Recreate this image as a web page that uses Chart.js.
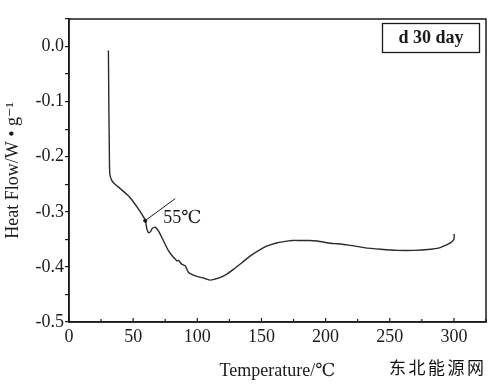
<!DOCTYPE html>
<html>
<head>
<meta charset="utf-8">
<script src="https://cdn.jsdelivr.net/npm/chart.js@4/dist/chart.umd.min.js"></script>
<style>
  html, body { margin: 0; padding: 0; background: #fff; }
  #wrap { width: 500px; height: 388px; position: relative; }
</style>
</head>
<body>
<div id="wrap"><canvas id="c" width="500" height="388"></canvas></div>
<script>
// ---- data ----
const temperature = [30.7, 30.9, 31.1, 31.4, 31.8, 33.3, 35.9, 40, 46.3, 50.5, 54.2, 57, 59.4, 60.7, 62, 63.5, 65, 67.2, 69.8, 73.7, 77.6, 81.5, 83, 84.1, 85.5, 86.7, 88.5, 90.6, 93.2, 97, 101, 106, 110, 114, 118, 123, 128.4, 135, 141.4, 148, 154.5, 161, 167.4, 174, 180.5, 187, 193.5, 203.9, 209, 217, 230, 243, 256, 269, 282, 288, 292.4, 297.6, 300, 300.2];
const heatFlow = [-0.007, -0.06, -0.12, -0.18, -0.231, -0.243, -0.250, -0.258, -0.271, -0.283, -0.295, -0.305, -0.315, -0.331, -0.338, -0.336, -0.330, -0.328, -0.335, -0.353, -0.371, -0.383, -0.386, -0.389, -0.388, -0.392, -0.396, -0.398, -0.410, -0.415, -0.418, -0.421, -0.424, -0.422, -0.419, -0.413, -0.404, -0.392, -0.380, -0.370, -0.362, -0.357, -0.354, -0.352, -0.352, -0.352, -0.353, -0.357, -0.358, -0.360, -0.365, -0.368, -0.370, -0.370, -0.368, -0.366, -0.362, -0.356, -0.350, -0.340];
const xMajorTicks = [0, 50, 100, 150, 200, 250, 300];
const yMajorTicks = [0.0, -0.1, -0.2, -0.3, -0.4, -0.5];
const annotationLine = { x: [59.4, 82.8], y: [-0.316, -0.276] };
const annotationText = { label: "55℃", x: 73.4, y: -0.312 };
const panelLabel = "d 30 day";
const xTitle = "Temperature/℃";
const yTitle = "Heat Flow/W • g⁻¹";
const watermark = "东北能源网";

const points = temperature.map((t, i) => ({ x: t, y: heatFlow[i] }));
const SERIF = "'Liberation Serif', 'DejaVu Serif', serif";
const INK = '#1a1a1a';

const decor = {
  id: 'decor',
  afterDraw(chart) {
    const { ctx, chartArea: a, scales: { x, y } } = chart;
    ctx.save();
    // frame
    ctx.strokeStyle = INK;
    ctx.lineWidth = 1.5;
    ctx.strokeRect(a.left, a.top, a.right - a.left, a.bottom - a.top);
    // inward x ticks every 25
    ctx.lineWidth = 1.2;
    for (let v = 0; v <= 325; v += 25) {
      const px = x.getPixelForValue(v);
      const len = (v % 50 === 0) ? 4 : 3;
      ctx.beginPath();
      ctx.moveTo(px, a.bottom);
      ctx.lineTo(px, a.bottom - len);
      ctx.stroke();
    }
    // annotation pointer
    ctx.lineWidth = 1;
    ctx.beginPath();
    ctx.moveTo(x.getPixelForValue(annotationLine.x[0]), y.getPixelForValue(annotationLine.y[0]));
    ctx.lineTo(x.getPixelForValue(annotationLine.x[1]), y.getPixelForValue(annotationLine.y[1]));
    ctx.stroke();
    ctx.beginPath();
    ctx.arc(x.getPixelForValue(annotationLine.x[0]), y.getPixelForValue(annotationLine.y[0]), 2, 0, Math.PI * 2);
    ctx.fillStyle = INK;
    ctx.fill();
    ctx.font = "18px " + SERIF;
    ctx.textBaseline = 'middle';
    ctx.textAlign = 'left';
    ctx.fillText(annotationText.label, x.getPixelForValue(annotationText.x), y.getPixelForValue(annotationText.y));
    // panel label box
    ctx.lineWidth = 1.3;
    ctx.strokeRect(382.5, 23.5, 97, 29);
    ctx.font = "bold 18px " + SERIF;
    ctx.textAlign = 'center';
    ctx.fillText(panelLabel, 431, 38.5);
    // watermark
    ctx.font = "17px 'Noto Sans CJK SC', sans-serif";
    ctx.textAlign = 'left';
    ctx.fillStyle = '#111';
    if ('letterSpacing' in ctx) ctx.letterSpacing = '2.5px';
    ctx.fillText(watermark, 389, 368);
    ctx.restore();
  }
};

new Chart(document.getElementById('c'), {
  type: 'scatter',
  data: {
    datasets: [{
      data: points,
      showLine: true,
      borderColor: '#2a2a2a',
      borderWidth: 1.4,
      pointRadius: 0,
      tension: 0.2,
      fill: false
    }]
  },
  options: {
    responsive: false,
    animation: false,
    devicePixelRatio: 1,
    layout: { padding: { top: 19, right: 14, bottom: 6, left: 2 } },
    plugins: { legend: { display: false }, tooltip: { enabled: false } },
    scales: {
      x: {
        type: 'linear',
        min: 0, max: 325,
        afterFit: s => { s.height = 60; },
        afterBuildTicks: s => { s.ticks = xMajorTicks.map(v => ({ value: v })); },
        ticks: { font: { family: SERIF, size: 18 }, color: INK, padding: 4, maxRotation: 0 },
        grid: { drawOnChartArea: false, drawTicks: false },
        border: { color: INK, width: 1.5 },
        title: { display: true, text: xTitle, font: { family: SERIF, size: 18 }, color: INK, padding: { top: 0, bottom: 0 } }
      },
      y: {
        type: 'linear',
        min: -0.5, max: 0.05,
        afterFit: s => { s.width = 67; },
        afterBuildTicks: s => {
          const t = [];
          for (let k = -10; k <= 1; k++) t.push({ value: k * 0.05 });
          s.ticks = t;
        },
        ticks: {
          font: { family: SERIF, size: 18 }, color: INK, padding: 1,
          callback: v => {
            const r = Math.round(v * 10);
            if (Math.abs(v * 10 - r) > 1e-6 || r > 0) return '';
            return yMajorTicks.includes(r / 10) || r === 0 ? (r / 10).toFixed(1) : '';
          }
        },
        grid: { drawOnChartArea: false, tickLength: 4, color: INK, lineWidth: 1.2 },
        border: { color: INK, width: 1.5 },
        title: { display: true, text: yTitle, font: { family: SERIF, size: 18 }, color: INK, padding: { top: 0, bottom: 0 } }
      }
    }
  },
  plugins: [decor]
});
</script>
</body>
</html>
